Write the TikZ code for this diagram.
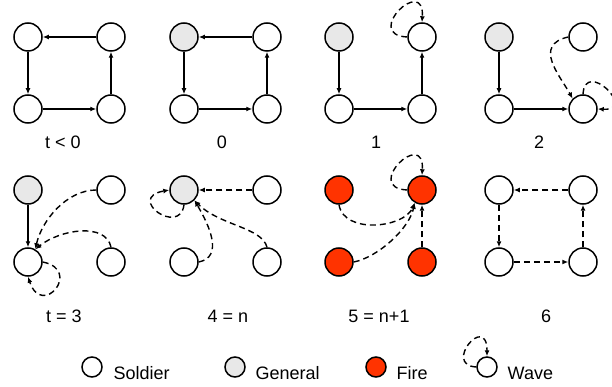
\documentclass[tikz,border=0pt]{standalone}
\usepackage{fontspec}
\setmainfont{Liberation Sans}
\usetikzlibrary{arrows.meta}
\definecolor{genfill}{RGB}{232,232,232}
\definecolor{firefill}{RGB}{255,51,0}

\begin{document}
\begin{tikzpicture}[x=1pt,y=-1pt,
	sol/.style={circle, draw, line width=1.5pt, minimum size=28pt, inner sep=0pt, fill=white},
	gen/.style={sol, fill=genfill}, fire/.style={sol, fill=firefill},
	legsize/.style={minimum size=20pt},
	lbl/.style={anchor=base, inner sep=0pt, font=\fontsize{18}{20}\selectfont},
	wave/.style={dash pattern=on 6pt off 4pt},
	>={Latex[length=6pt,width=5pt]}, line width=1.4pt]

\useasboundingbox (0,0) rectangle (612,387);

% t < 0
\node[sol] (a1) at (28,37) {};
\node[sol] (a2) at (111,37) {};
\node[sol] (a3) at (28,109) {};
\node[sol] (a4) at (111,109) {};
\draw[->] (a2) -- (a1);
\draw[->] (a1) -- (a3);
\draw[->] (a3) -- (a4);
\draw[->] (a4) -- (a2);
\node[lbl] (la) at (63,149) {t < 0};

% 0
\node[gen] (b1) at (184,37) {};
\node[sol] (b2) at (267,37) {};
\node[sol] (b3) at (184,109) {};
\node[sol] (b4) at (267,109) {};
\draw[->] (b2) -- (b1);
\draw[->] (b1) -- (b3);
\draw[->] (b3) -- (b4);
\draw[->] (b4) -- (b2);
\node[lbl] (lb) at (222,149) {0};

% 1
\node[gen] (c1) at (339,37) {};
\node[sol] (c2) at (422,37) {};
\node[sol] (c3) at (339,109) {};
\node[sol] (c4) at (422,109) {};
\draw[->] (c1) -- (c3);
\draw[->] (c3) -- (c4);
\draw[->] (c4) -- (c2);
\draw[wave,->] (c2.west) .. controls +(-45,-2) and +(3,-48) .. (c2.north);
\node[lbl] (lc) at (376,149) {1};

% 2
\node[gen] (d1) at (499,37) {};
\node[sol] (d2) at (583,37) {};
\node[sol] (d3) at (499,109) {};
\node[sol] (d4) at (583,109) {};
\draw[->] (d1) -- (d3);
\draw[->] (d3) -- (d4);
\draw[wave,->] (d2.west) .. controls +(-36,8) and +(-12,-22) .. (d4.135);
\draw[wave,->] (d4.north) .. controls +(2,-36) and +(40,2) .. (d4.east);
\node[lbl] (ld) at (539,149) {2};

% t = 3
\node[gen] (e1) at (28,190) {};
\node[sol] (e2) at (111,190) {};
\node[sol] (e3) at (28,262) {};
\node[sol] (e4) at (111,262) {};
\draw[->] (e1) -- (e3);
\draw[wave,->] (e2.west) .. controls +(-30,0) and +(6,-28) .. (e3.60);
\draw[wave,->] (e4.north) .. controls +(-5,-25) and +(25,-20) .. (e3.60);
\draw[wave,->] (e3.east) .. controls +(40,8) and +(14,42) .. (e3.south);
\node[lbl] (le) at (64,322) {t = 3};

% 4 = n
\node[gen] (f1) at (184,190) {};
\node[sol] (f2) at (267,190) {};
\node[sol] (f3) at (184,262) {};
\node[sol] (f4) at (267,262) {};
\draw[wave,->] (f2) -- (f1);
\draw[wave,->] (f1.south) .. controls +(-4,32) and +(-44,8) .. (f1.west);
\draw[wave,->] (f3.east) .. controls +(25,-5) and +(15,25) .. (f1.-45);
\draw[wave,->] (f4.north) .. controls +(-5,-20) and +(25,25) .. (f1.-45);
\node[lbl] (lf) at (228,322) {4 = n};

% 5 = n+1
\node[fire] (g1) at (339,190) {};
\node[fire] (g2) at (422,190) {};
\node[fire] (g3) at (339,262) {};
\node[fire] (g4) at (422,262) {};
\draw[wave,->] (g2.west) .. controls +(-45,-2) and +(3,-48) .. (g2.north);
\draw[wave,->] (g1.south) .. controls +(5,30) and +(-10,25) .. (g2.-120);
\draw[wave,->] (g3.east) .. controls +(25,-5) and +(-5,25) .. (g2.-120);
\draw[wave,->] (g4) -- (g2);
\node[lbl] (lg) at (379,322) {5 = n+1};

% 6
\node[sol] (h1) at (499,190) {};
\node[sol] (h2) at (583,190) {};
\node[sol] (h3) at (499,262) {};
\node[sol] (h4) at (583,262) {};
\draw[wave,->] (h2) -- (h1);
\draw[wave,->] (h1) -- (h3);
\draw[wave,->] (h3) -- (h4);
\draw[wave,->] (h4) -- (h2);
\node[lbl] (lh) at (546,322) {6};

% legend
\node[sol,legsize] (ks) at (92,367) {};
\node[lbl,anchor=base west] (kst) at (113,379) {Soldier};
\node[gen,legsize] (kg) at (235,367) {};
\node[lbl,anchor=base west] (kgt) at (255,379) {General};
\node[fire,legsize] (kf) at (376,367) {};
\node[lbl,anchor=base west] (kft) at (396,379) {Fire};
\node[sol,legsize] (kw) at (487,367) {};
\draw[wave,->] (kw.west) .. controls +(-34,-2) and +(0,-44) .. (kw.north);
\node[lbl,anchor=base west] (kwt) at (507,379) {Wave};
\end{tikzpicture}
\end{document}
